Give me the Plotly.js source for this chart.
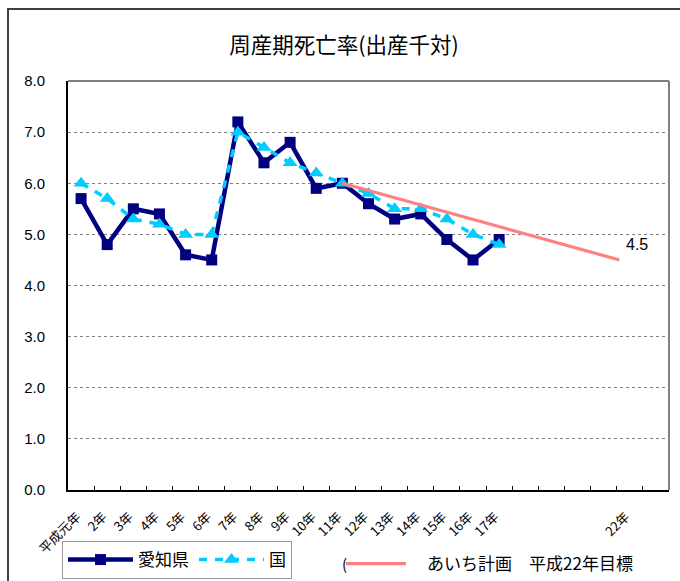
<!DOCTYPE html>
<html>
<head>
<meta charset="utf-8">
<script src="https://cdn.plot.ly/plotly-3.0.1.min.js"></script>
<style>html,body{margin:0;padding:0;background:#fff;}#chart{width:680px;height:581px;}</style>
</head>
<body>
<div id="chart"></div>
<script>
// Categories (平成 years) and their axis labels
const categories = ['平成元年','2年','3年','4年','5年','6年','7年','8年','9年','10年','11年','12年','13年','14年','15年','16年','17年','18年','19年','20年','21年','22年','23年'];
const tickLabels = ['平成元年','2年','3年','4年','5年','6年','7年','8年','9年','10年','11年','12年','13年','14年','15年','16年','17年','','','','','22年',''];
const dataYears = ['平成元年','2年','3年','4年','5年','6年','7年','8年','9年','10年','11年','12年','13年','14年','15年','16年','17年'];
// 周産期死亡率 (出産千対)
const aichi    = [5.7, 4.8, 5.5, 5.4, 4.6, 4.5, 7.2, 6.4, 6.8, 5.9, 6.0, 5.6, 5.3, 5.4, 4.9, 4.5, 4.9];
const national = [6.0, 5.7, 5.3, 5.2, 5.0, 5.0, 7.0, 6.7, 6.4, 6.2, 6.0, 5.8, 5.5, 5.5, 5.3, 5.0, 4.8];
// あいち計画 平成22年目標 (category index positions on secondary axis)
const planPos = [10, 20.6];
const planVal = [6.0, 4.5];
const planLabel = '4.5';

const cjk = '"Noto Sans CJK JP", "Noto Sans", sans-serif';
const lat = '"Liberation Sans", Arial, sans-serif';

const L = 68, R = 669, T = 81, B = 490, W = 680, H = 581;
const px = v => (v - L) / (R - L);
const py = v => (B - v) / (B - T);

const traces = [
  {
    x: planPos, y: planVal, xaxis: 'x2', yaxis: 'y',
    type: 'scatter', mode: 'lines', name: '\u2002\u00a0\u00a0あいち計画\u3000平成22年目標',
    line: {color: '#FF8080', width: 3.2}, legend: 'legend2'
  },
  {
    x: dataYears, y: aichi, type: 'scatter', mode: 'lines+markers', name: '愛知県',
    line: {color: '#000080', width: 4.5},
    marker: {symbol: 'square', size: 11, color: '#000080'}
  },
  {
    x: dataYears, y: national, type: 'scatter', mode: 'lines+markers', name: '国',
    line: {color: '#00CCFF', width: 3.5, dash: '8px,8px'},
    marker: {symbol: 'triangle-up', size: 13, color: '#00CCFF'}
  }
];

const layout = {
  width: W, height: H,
  margin: {l: L, r: W - R, t: T, b: H - B},
  paper_bgcolor: '#ffffff', plot_bgcolor: '#ffffff',
  showlegend: true,
  title: {text: '周産期死亡率(出産千対)', font: {family: cjk, size: 21.5, color: '#000'},
          x: 344 / W, xanchor: 'center', y: 1 - 45 / H, yanchor: 'middle', yref: 'container'},
  xaxis: {
    type: 'category', categoryorder: 'array', categoryarray: categories,
    tickmode: 'array', tickvals: categories, ticktext: tickLabels,
    tickson: 'boundaries', ticks: 'inside', ticklen: 4, tickwidth: 1, tickcolor: '#000',
    tickangle: -45, tickfont: {family: cjk, size: 13, color: '#000'},
    ticklabelstandoff: 12, ticklabelshift: -4,
    range: [-0.5, 22.5], showgrid: false, zeroline: false,
    showline: true, linecolor: '#000', linewidth: 2, mirror: false, fixedrange: true
  },
  xaxis2: {
    overlaying: 'x', type: 'linear', range: [-0.5, 22.5], visible: false, fixedrange: true
  },
  yaxis: {
    range: [0, 8], dtick: 1, tick0: 0, tickformat: '.1f',
    tickfont: {family: lat, size: 15, color: '#000'},
    ticks: '', ticklabelstandoff: 18,
    showgrid: true, gridcolor: '#808080', griddash: 'dot', gridwidth: 1,
    zeroline: false, showline: true, linecolor: '#000', linewidth: 2, fixedrange: true
  },
  legend: {
    orientation: 'h', xref: 'container', yref: 'container',
    x: 62 / W, xanchor: 'left', y: 1 - 541 / H, yanchor: 'top',
    font: {family: cjk, size: 17, color: '#000'},
    bgcolor: '#ffffff', bordercolor: '#999999', borderwidth: 1,
    itemwidth: 65, traceorder: 'normal', tracegroupgap: 0
  },
  legend2: {
    orientation: 'h', xref: 'container', yref: 'container',
    x: 341 / W, xanchor: 'left', y: 1 - 546 / H, yanchor: 'top',
    font: {family: cjk, size: 17, color: '#000'},
    bgcolor: 'rgba(0,0,0,0)', borderwidth: 0, itemwidth: 60
  },
  shapes: [
    // plot area border (top and right)
    {type: 'line', xref: 'paper', yref: 'paper', x0: 0, x1: 1, y0: 1, y1: 1, line: {color: '#808080', width: 2}},
    {type: 'line', xref: 'paper', yref: 'paper', x0: 1, x1: 1, y0: 0, y1: 1, line: {color: '#808080', width: 2}},
    // chart outer frame
    {type: 'rect', xref: 'paper', yref: 'paper', x0: px(8), x1: px(720), y0: py(640), y1: py(9),
     line: {color: '#404040', width: 2}, fillcolor: 'rgba(0,0,0,0)', layer: 'below'}
  ],
  annotations: [
    {xref: 'x2', yref: 'y', x: planPos[1], y: planVal[1], text: planLabel, showarrow: false,
     xanchor: 'left', yanchor: 'middle', xshift: 5, yshift: 15,
     font: {family: lat, size: 16, color: '#000'}},
    {xref: 'paper', yref: 'paper', x: px(340), y: py(563), text: '(', showarrow: false,
     xanchor: 'left', yanchor: 'middle', font: {family: cjk, size: 15, color: '#000'}}
  ]
};

Plotly.newPlot('chart', traces, layout, {displayModeBar: false, staticPlot: true});
</script>
</body>
</html>
